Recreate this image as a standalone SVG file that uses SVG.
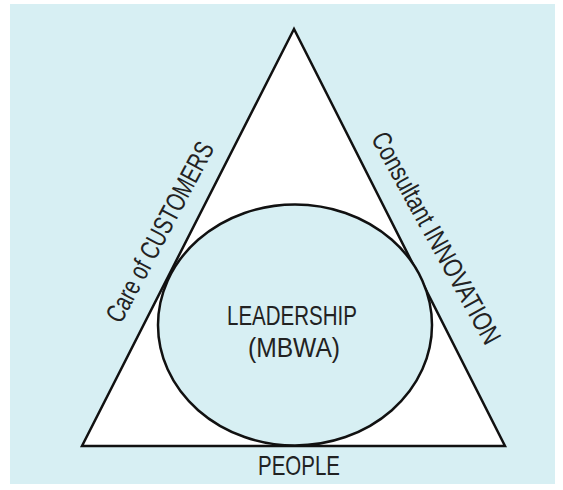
<svg xmlns="http://www.w3.org/2000/svg" width="563" height="490" viewBox="0 0 563 490">
<style>
.lbl{font-family:"Liberation Sans Narrow","Liberation Sans",Arial,sans-serif;font-size:28px;fill:#222;}
.side{font-size:27px;}
.shape{stroke:#111;stroke-width:2.5;stroke-linejoin:miter;}
</style>
<rect x="0" y="0" width="563" height="490" fill="#ffffff"/>
<rect x="10" y="4" width="545" height="480" fill="#d7eff3"/>
<g id="triangle">
<polygon class="shape" points="294,29 82,446 505,446" fill="#ffffff"/>
</g>
<g id="leadership">
<ellipse class="shape" cx="295" cy="325" rx="137" ry="120.5" fill="#d7eff3"/>
<text class="lbl" x="292" y="325" text-anchor="middle" textLength="130" lengthAdjust="spacingAndGlyphs">LEADERSHIP</text>
<text class="lbl" x="294" y="357" text-anchor="middle" textLength="92" lengthAdjust="spacingAndGlyphs">(MBWA)</text>
</g>
<g id="customers">
<text class="lbl side" transform="translate(160,232) rotate(-62)" text-anchor="middle" dominant-baseline="central" textLength="200" lengthAdjust="spacingAndGlyphs">Care of CUSTOMERS</text>
</g>
<g id="innovation">
<text class="lbl side" transform="translate(436,238) rotate(61)" text-anchor="middle" dominant-baseline="central" textLength="238" lengthAdjust="spacingAndGlyphs">Consultant INNOVATION</text>
</g>
<g id="people">
<text class="lbl" x="299" y="475" text-anchor="middle" textLength="82" lengthAdjust="spacingAndGlyphs">PEOPLE</text>
</g>
</svg>
